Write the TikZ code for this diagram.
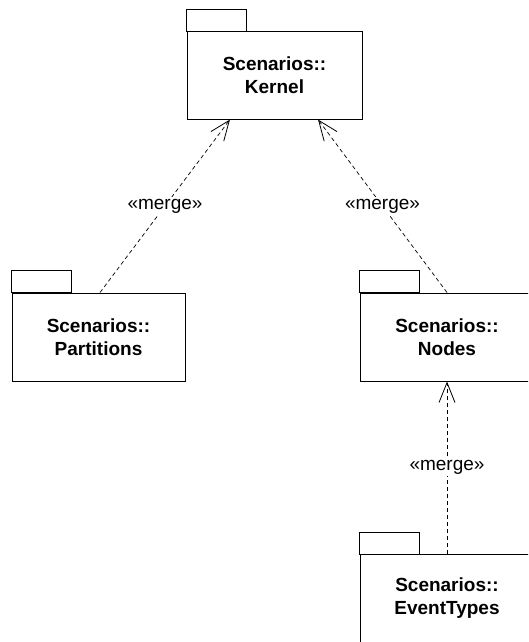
\documentclass[tikz,border=0pt]{standalone}
\usepackage{fontspec}
\setmainfont{Liberation Sans}
\usetikzlibrary{arrows.meta}
\begin{document}
\begin{tikzpicture}[x=1pt,y=-1pt,
  pkg/.style={draw=black,line width=1pt,minimum width=174pt,minimum height=88pt,
    align=center,font=\fontsize{19}{23}\selectfont\bfseries,inner sep=0pt},
  tabbox/.style={draw=black,line width=1pt},
  merge/.style={draw=black,line width=0.7pt,dash pattern=on 4pt off 3pt,
    -{Straight Barb[length=20pt,width=16pt,line width=0.8pt]}},
  lbl/.style={fill=white,inner sep=1.5pt,font=\fontsize{19}{23}\selectfont}]
\useasboundingbox (0,0) rectangle (528,642);
\clip (0,0) rectangle (528,642);
\node[pkg,minimum width=175pt,minimum height=87pt] (kernel) at (274.5,75.5) {Scenarios::\\Kernel};
\node[pkg,minimum width=173pt] (part) at (98.5,337) {Scenarios::\\Partitions};
\node[pkg] (nodes) at (447,337) {Scenarios::\\Nodes};
\node[pkg] (evt) at (447,598.5) {Scenarios::\\EventTypes};
\foreach \n in {kernel,part,nodes,evt}{
  \draw[tabbox] (\n.north west) rectangle ++(60,-22);
}
\draw[merge] ([xshift=1.5pt]part.north) -- node[lbl,pos=0.5]{«merge»} ([xshift=-44.5pt]kernel.south);
\draw[merge] ([xshift=0pt]nodes.north) -- node[lbl,pos=0.5]{«merge»} ([xshift=43.5pt]kernel.south);
\draw[merge] ([xshift=0pt]evt.north) -- node[lbl,pos=0.5]{«merge»} ([xshift=0pt]nodes.south);
\end{tikzpicture}
\end{document}
